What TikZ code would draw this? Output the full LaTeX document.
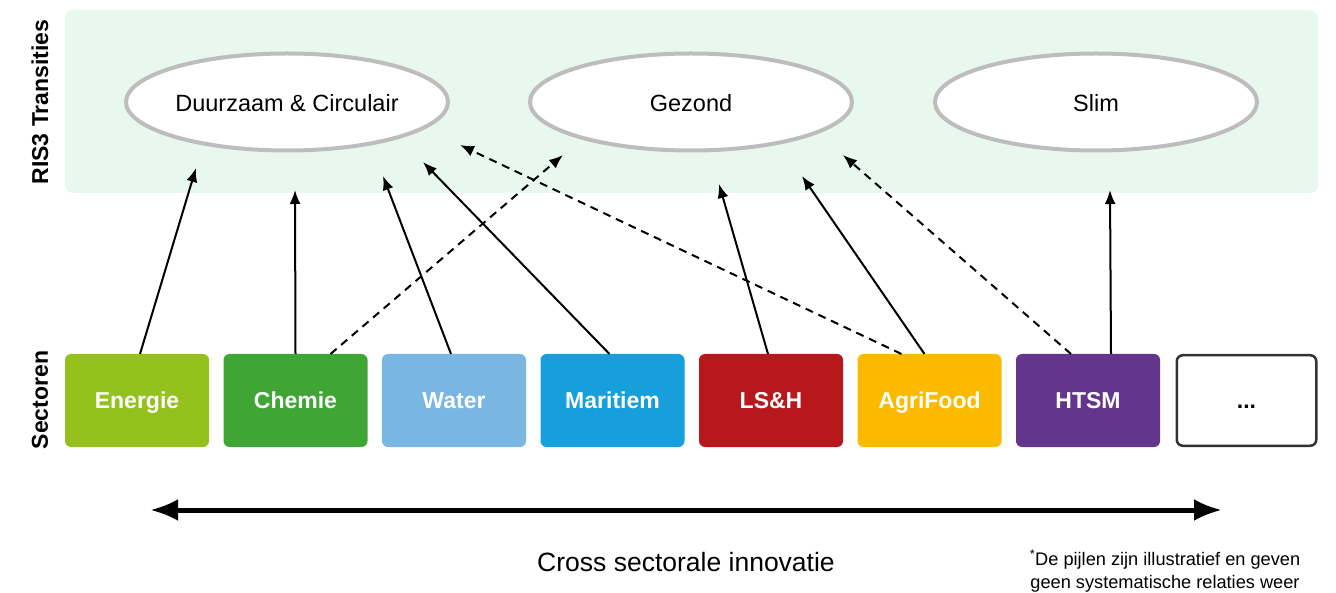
\documentclass[tikz,border=0pt]{standalone}
\usepackage{fontspec}
\setmainfont{Liberation Sans}
\usetikzlibrary{positioning,arrows.meta,calc,shapes.geometric}
\definecolor{energiekl}{HTML}{95C11F}
\definecolor{chemiekl}{HTML}{3FA535}
\definecolor{waterkl}{HTML}{7AB6E2}
\definecolor{maritiemkl}{HTML}{179FDB}
\definecolor{lshkl}{HTML}{B7181C}
\definecolor{agrikl}{HTML}{FBBA00}
\definecolor{htsmkl}{HTML}{64358C}
\definecolor{achtergrond}{HTML}{E8F8EE}
\definecolor{randgrijs}{HTML}{BDBDBD}
\definecolor{randdonker}{HTML}{333333}
\tikzset{>={Latex[length=14pt,width=11pt]}}

\begin{document}
\begin{tikzpicture}[x=1pt, y=-1pt,
    transitie/.style={ellipse, draw=randgrijs, line width=4pt, fill=white,
      minimum width=322pt, minimum height=97pt, inner sep=0pt,
      text height=19pt, text depth=0pt,
      font=\fontsize{23.5}{28}\selectfont},
    sector/.style={rectangle, rounded corners=6pt, minimum width=144pt,
      minimum height=93pt, inner sep=0pt, outer sep=0pt, text=white,
      text height=16pt, text depth=0pt,
      font=\bfseries\fontsize{23}{28}\selectfont},
    zijlabel/.style={rotate=90, font=\bfseries\fontsize{23}{28}\selectfont},
    pijl/.style={->, line width=2pt},
    stippel/.style={pijl, dash pattern=on 8pt off 6pt}]
    \useasboundingbox (0,0) rectangle (1336,593);
    \fill[achtergrond, rounded corners=8pt] (65,10) rectangle (1318,193);

    \node[zijlabel] (lbltrans) at (40,102) {RIS3 Transities};
    \node[zijlabel] (lblsect) at (40,400) {Sectoren};

    % transities
    \node[transitie] (duurzaam) at (287,102) {Duurzaam \& Circulair};
    \node[transitie] (gezond) at (691,102) {Gezond};
    \node[transitie] (slim) at (1096,102) {Slim};

    % sectoren
    \node[sector, fill=energiekl] (energie) at (137,400.5) {Energie};
    \node[sector, fill=chemiekl, right=14.5pt of energie] (chemie) {Chemie};
    \node[sector, fill=waterkl, right=14.5pt of chemie] (water) {Water};
    \node[sector, fill=maritiemkl, right=14.5pt of water] (maritiem) {Maritiem};
    \node[sector, fill=lshkl, right=14.5pt of maritiem] (lsh) {LS\&H};
    \node[sector, fill=agrikl, right=14.5pt of lsh] (agrifood) {AgriFood};
    \node[sector, fill=htsmkl, right=14.5pt of agrifood] (htsm) {HTSM};
    \node[sector, fill=white, draw=randdonker, line width=2.5pt, text=black,
      minimum width=139.5pt, minimum height=90.5pt, right=16.75pt of htsm] (meer) {...};

    % pijlpunten
    \coordinate (tEnergie) at (196,168);
    \coordinate (tChemie) at (295,190);
    \coordinate (tWater) at (383,176);
    \coordinate (tMaritiem) at (423,162);
    \coordinate (tLsh) at (719,184);
    \coordinate (tAgri) at (802,176);
    \coordinate (tHtsm) at (1110,190);
    \coordinate (sChemie) at (563,155);
    \coordinate (sAgri) at (460,145);
    \coordinate (sHtsm) at (843,155);

    \draw[pijl] ($(energie.north)+(3,0)$) -- (tEnergie);
    \draw[pijl] (chemie.north) -- (tChemie);
    \draw[pijl] ($(water.north)+(-3,0)$) -- (tWater);
    \draw[pijl] ($(maritiem.north)+(-3,0)$) -- (tMaritiem);
    \draw[pijl] ($(lsh.north)+(-3,0)$) -- (tLsh);
    \draw[pijl] ($(agrifood.north)+(-5,0)$) -- (tAgri);
    \draw[pijl] ($(htsm.north)+(23,0)$) -- (tHtsm);
    \draw[stippel] ($(chemie.north)+(35,0)$) -- (sChemie);
    \draw[stippel] ($(agrifood.north)+(-28,0)$) -- (sAgri);
    \draw[stippel] ($(htsm.north)+(-17,0)$) -- (sHtsm);

    % cross sectoraal
    \coordinate (links) at (150,510);
    \coordinate (rechts) at (1222,510);
    \draw[{Latex[length=28pt,width=22pt]}-{Latex[length=28pt,width=22pt]}, line width=5pt]
      (links) -- (rechts);
    \node[font=\fontsize{26.5}{32}\selectfont] (cross) at (686,562) {Cross sectorale innovatie};
    \node[font=\fontsize{18.2}{23}\selectfont, align=center] (noot) at (1165,571)
      {\textsuperscript{*}De pijlen zijn illustratief en geven\\geen systematische relaties weer};
\end{tikzpicture}
\end{document}
